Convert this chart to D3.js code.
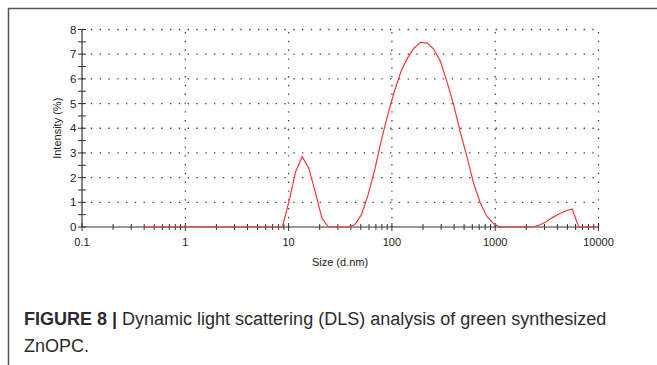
<!DOCTYPE html>
<html>
<head>
<meta charset="utf-8">
<script src="https://cdn.jsdelivr.net/npm/d3@7"></script>
<style>
  body { margin: 0; background: #fff; }
  svg text { font-family: "Liberation Sans", Arial, sans-serif; }
</style>
</head>
<body>
<div id="chart"></div>
<script>
// DLS size bins (d.nm) and intensity (%)
var sizes = [0.4, 0.4632, 0.5365, 0.6213, 0.7195, 0.8332, 0.9649, 1.117, 1.294, 1.499,
             1.736, 2.01, 2.328, 2.696, 3.122, 3.615, 4.187, 4.849, 5.615, 6.503,
             7.531, 8.721, 10.1, 11.7, 13.54, 15.69, 18.17, 21.04, 24.36, 28.21,
             32.67, 37.84, 43.82, 50.75, 58.77, 68.06, 78.82, 91.28, 105.7, 122.4,
             141.8, 164.2, 190.1, 220.2, 255, 295.3, 342, 396.1, 458.7, 531.2,
             615.1, 712.4, 825, 955.4, 1106, 1281, 1484, 1718, 1990, 2305,
             2669, 3091, 3580, 4145, 4801, 5560, 6439, 7456, 8635, 10000];
var intensity = [0, 0, 0, 0, 0, 0, 0, 0, 0, 0,
                 0, 0, 0, 0, 0, 0, 0, 0, 0, 0,
                 0, 0, 1.05, 2.24, 2.85, 2.38, 1.4, 0.35, 0, 0,
                 0, 0, 0.1, 0.5, 1.3, 2.3, 3.5, 4.55, 5.5, 6.3,
                 6.85, 7.25, 7.48, 7.45, 7.2, 6.7, 5.87, 4.95, 3.85, 2.87,
                 1.8, 1.0, 0.45, 0.15, 0, 0, 0, 0, 0, 0,
                 0.08, 0.2, 0.38, 0.53, 0.65, 0.73, 0, 0, 0, 0];
var xTicks = [0.1, 1, 10, 100, 1000, 10000];
var yTicks = [0, 1, 2, 3, 4, 5, 6, 7, 8];
var captionBold = "FIGURE 8 | ";
var captionLine1 = "Dynamic light scattering (DLS) analysis of green synthesized";
var captionLine2 = "ZnOPC.";

var W = 657, H = 365;
var svg = d3.select("#chart").append("svg")
            .attr("width", W)
            .attr("height", H);

// figure frame (open at right/bottom, runs off the crop)
svg.append("path")
   .attr("d", "M8.5," + H + " V8.5 H" + W)
   .attr("fill", "none")
   .attr("stroke", "#555")
   .attr("stroke-width", 1.5);

var x = d3.scaleLog().domain([0.1, 10000]).range([82, 598.5]);
var y = d3.scaleLinear().domain([0, 8]).range([227, 29.5]);

var g = svg.append("g");

/***** dotted grid ******/
g.selectAll(".hgrid")
 .data(yTicks.slice(1))
 .enter()
 .append("line")
 .attr("class", "hgrid")
 .attr("x1", x(0.1)).attr("x2", x(10000))
 .attr("y1", function(d) { return y(d); })
 .attr("y2", function(d) { return y(d); })
 .attr("stroke", "#444")
 .attr("stroke-width", 1.3)
 .attr("stroke-dasharray", "1.4,7.4");

g.selectAll(".vgrid")
 .data(xTicks.slice(1))
 .enter()
 .append("line")
 .attr("class", "vgrid")
 .attr("x1", function(d) { return x(d); })
 .attr("x2", function(d) { return x(d); })
 .attr("y1", y(0)).attr("y2", y(8))
 .attr("stroke", "#444")
 .attr("stroke-width", 1.3)
 .attr("stroke-dasharray", "1.4,7.4");

/***** axes ******/
var minorX = [];
xTicks.slice(0, -1).forEach(function(d) {
    for (var k = 2; k <= 9; k++) minorX.push(d * k);
});
var minorY = yTicks.slice(0, -1).map(function(d) { return d + 0.5; });

var axisCol = "#333";

g.append("line")
 .attr("x1", x(0.1)).attr("x2", x(10000))
 .attr("y1", y(0)).attr("y2", y(0))
 .attr("stroke", axisCol).attr("stroke-width", 1.2);

g.append("line")
 .attr("x1", x(0.1)).attr("x2", x(0.1))
 .attr("y1", y(0)).attr("y2", y(8))
 .attr("stroke", axisCol).attr("stroke-width", 1.2);

g.selectAll(".xtick")
 .data(xTicks.concat(minorX))
 .enter()
 .append("line")
 .attr("x1", function(d) { return x(d); })
 .attr("x2", function(d) { return x(d); })
 .attr("y1", function(d) { return y(0) - (xTicks.indexOf(d) >= 0 ? 4 : 3); })
 .attr("y2", function(d) { return y(0) + (xTicks.indexOf(d) >= 0 ? 4 : 3); })
 .attr("stroke", axisCol).attr("stroke-width", 1);

g.selectAll(".ytick")
 .data(yTicks.concat(minorY))
 .enter()
 .append("line")
 .attr("x1", function(d) { return x(0.1) - 4; })
 .attr("x2", function(d) { return x(0.1) + 4; })
 .attr("y1", function(d) { return y(d); })
 .attr("y2", function(d) { return y(d); })
 .attr("stroke", axisCol).attr("stroke-width", 1);

g.selectAll(".xlab")
 .data(xTicks)
 .enter()
 .append("text")
 .attr("x", function(d) { return x(d); })
 .attr("y", 246)
 .attr("text-anchor", "middle")
 .style("font-size", "11px")
 .style("fill", "#222")
 .text(function(d) { return d; });

g.selectAll(".ylab")
 .data(yTicks)
 .enter()
 .append("text")
 .attr("x", 76.5)
 .attr("y", function(d) { return y(d) + 4; })
 .attr("text-anchor", "end")
 .style("font-size", "11.5px")
 .style("fill", "#222")
 .text(function(d) { return d; });

g.append("text")
 .attr("transform", "translate(61," + y(4) + ") rotate(-90)")
 .attr("text-anchor", "middle")
 .style("font-size", "11px")
 .style("fill", "#222")
 .text("Intensity (%)");

g.append("text")
 .attr("x", 340)
 .attr("y", 266)
 .attr("text-anchor", "middle")
 .style("font-size", "11px")
 .style("fill", "#222")
 .text("Size (d.nm)");

/***** distribution curve ******/
var line = d3.line()
             .x(function(d, i) { return x(sizes[i]); })
             .y(function(d) { return y(d); });

g.append("path")
 .datum(intensity)
 .attr("d", line)
 .attr("fill", "none")
 .attr("stroke", "#f03a3a")
 .attr("stroke-width", 1.2);

/***** caption ******/
var cap = svg.append("text")
             .attr("x", 24)
             .attr("y", 325)
             .style("font-size", "18px")
             .style("fill", "#2b2b2b");
cap.append("tspan").style("font-weight", "bold").text(captionBold);
cap.append("tspan").text(captionLine1);

svg.append("text")
   .attr("x", 24)
   .attr("y", 352)
   .style("font-size", "18px")
   .style("fill", "#2b2b2b")
   .text(captionLine2);
</script>
</body>
</html>
